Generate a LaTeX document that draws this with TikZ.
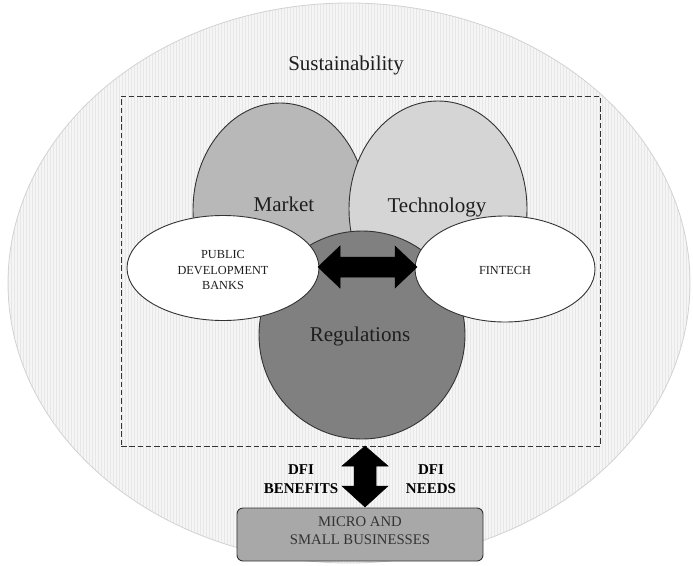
\documentclass[tikz,border=0pt]{standalone}
\usepackage{fontspec}
\setmainfont{Liberation Serif}
\usetikzlibrary{shapes.geometric,calc}
\definecolor{bgc}{HTML}{F5F5F5}
\definecolor{stripec}{HTML}{E7E7E7}
\definecolor{edgec}{HTML}{D2D2D2}
\definecolor{mkc}{HTML}{B8B8B8}
\definecolor{tcc}{HTML}{D5D5D5}
\definecolor{rgc}{HTML}{808080}
\definecolor{boxc}{HTML}{A8A8A8}
\definecolor{linec}{HTML}{333333}
\definecolor{txtc}{HTML}{1E1E1E}
\tikzset{
  blob/.style={ellipse, draw=linec, line width=0.9pt, inner sep=0pt},
  biglabel/.style={text=txtc, font=\fontsize{21}{24}\selectfont},
  smalllabel/.style={text=txtc, align=center, font=\fontsize{12.3}{15.5}\selectfont},
  dfilabel/.style={text=black, align=center, font=\bfseries\fontsize{15}{19.5}\selectfont},
  boxlabel/.style={text=linec, align=center, font=\fontsize{14.7}{18}\selectfont},
  blockarrow/.style={fill=black, draw=black, line width=0.5pt, line join=miter},
}
\begin{document}
\begin{tikzpicture}[x=1pt,y=-1pt]
\useasboundingbox (0,0) rectangle (693,565);
% outer sustainability ellipse
\node[ellipse, fill=bgc, inner sep=0pt, minimum width=682pt, minimum height=560pt] (sus) at (349,283) {};
\begin{scope}
  \clip (349,283) ellipse [x radius=341, y radius=280];
  \foreach \x in {8,11,...,692} \draw[stripec, line width=0.7pt] (\x,0) -- (\x,565);
\end{scope}
\draw[edgec, line width=0.8pt] (349,283) ellipse [x radius=341, y radius=280];
\node[biglabel] (sustxt) at (346,65) {Sustainability};
% dashed frame
\node[draw=linec, dash pattern=on 5.5pt off 2.8pt, line width=0.9pt, minimum width=479pt, minimum height=350pt, inner sep=0pt] (frame) at (360.5,271) {};
% circles
\node[blob, fill=mkc, minimum width=174pt, minimum height=214pt] (market) at (280,210) {};
\node[blob, fill=tcc, minimum width=178pt, minimum height=216pt] (tech) at (438,209) {};
\node[blob, fill=rgc, minimum width=206pt, minimum height=208pt] (reg) at (362,335) {};
\node[biglabel] (mktxt) at (284,204) {Market};
\node[biglabel] (tctxt) at (437,207) {Technology};
\node[biglabel] (rgtxt) at (360,336) {Regulations};
% actors
\node[blob, fill=white, minimum width=192pt, minimum height=105pt] (pdb) at (223,268) {};
\node[smalllabel] (pdbtxt) at (223,270) {PUBLIC\\DEVELOPMENT\\BANKS};
\node[blob, fill=white, minimum width=180pt, minimum height=106pt] (fin) at (505,269) {};
\node[smalllabel] (fintxt) at (505,270) {FINTECH};
% horizontal double arrow between pdb and fintech
\draw[blockarrow] (318,267) -- (340,246) -- (340,257) -- (395,257) -- (395,246) -- (417,267)
  -- (395,288) -- (395,277) -- (340,277) -- (340,288) -- cycle;
% bottom box
\node[draw=linec, fill=boxc, rounded corners=6pt, line width=0.9pt, minimum width=246pt, minimum height=53pt, inner sep=0pt] (msb) at (360,534.5) {};
\node[boxlabel] (msbtxt) at (360,531) {MICRO AND\\SMALL BUSINESSES};
% vertical double arrow between frame and box
\draw[blockarrow] (365,446) -- (388,466) -- (376,466) -- (376,486) -- (388,486) -- (365,507)
  -- (342,486) -- (354,486) -- (354,466) -- (342,466) -- cycle;
\node[dfilabel] (ben) at (301,479) {DFI\\BENEFITS};
\node[dfilabel] (need) at (431,479) {DFI\\NEEDS};
\end{tikzpicture}
\end{document}
